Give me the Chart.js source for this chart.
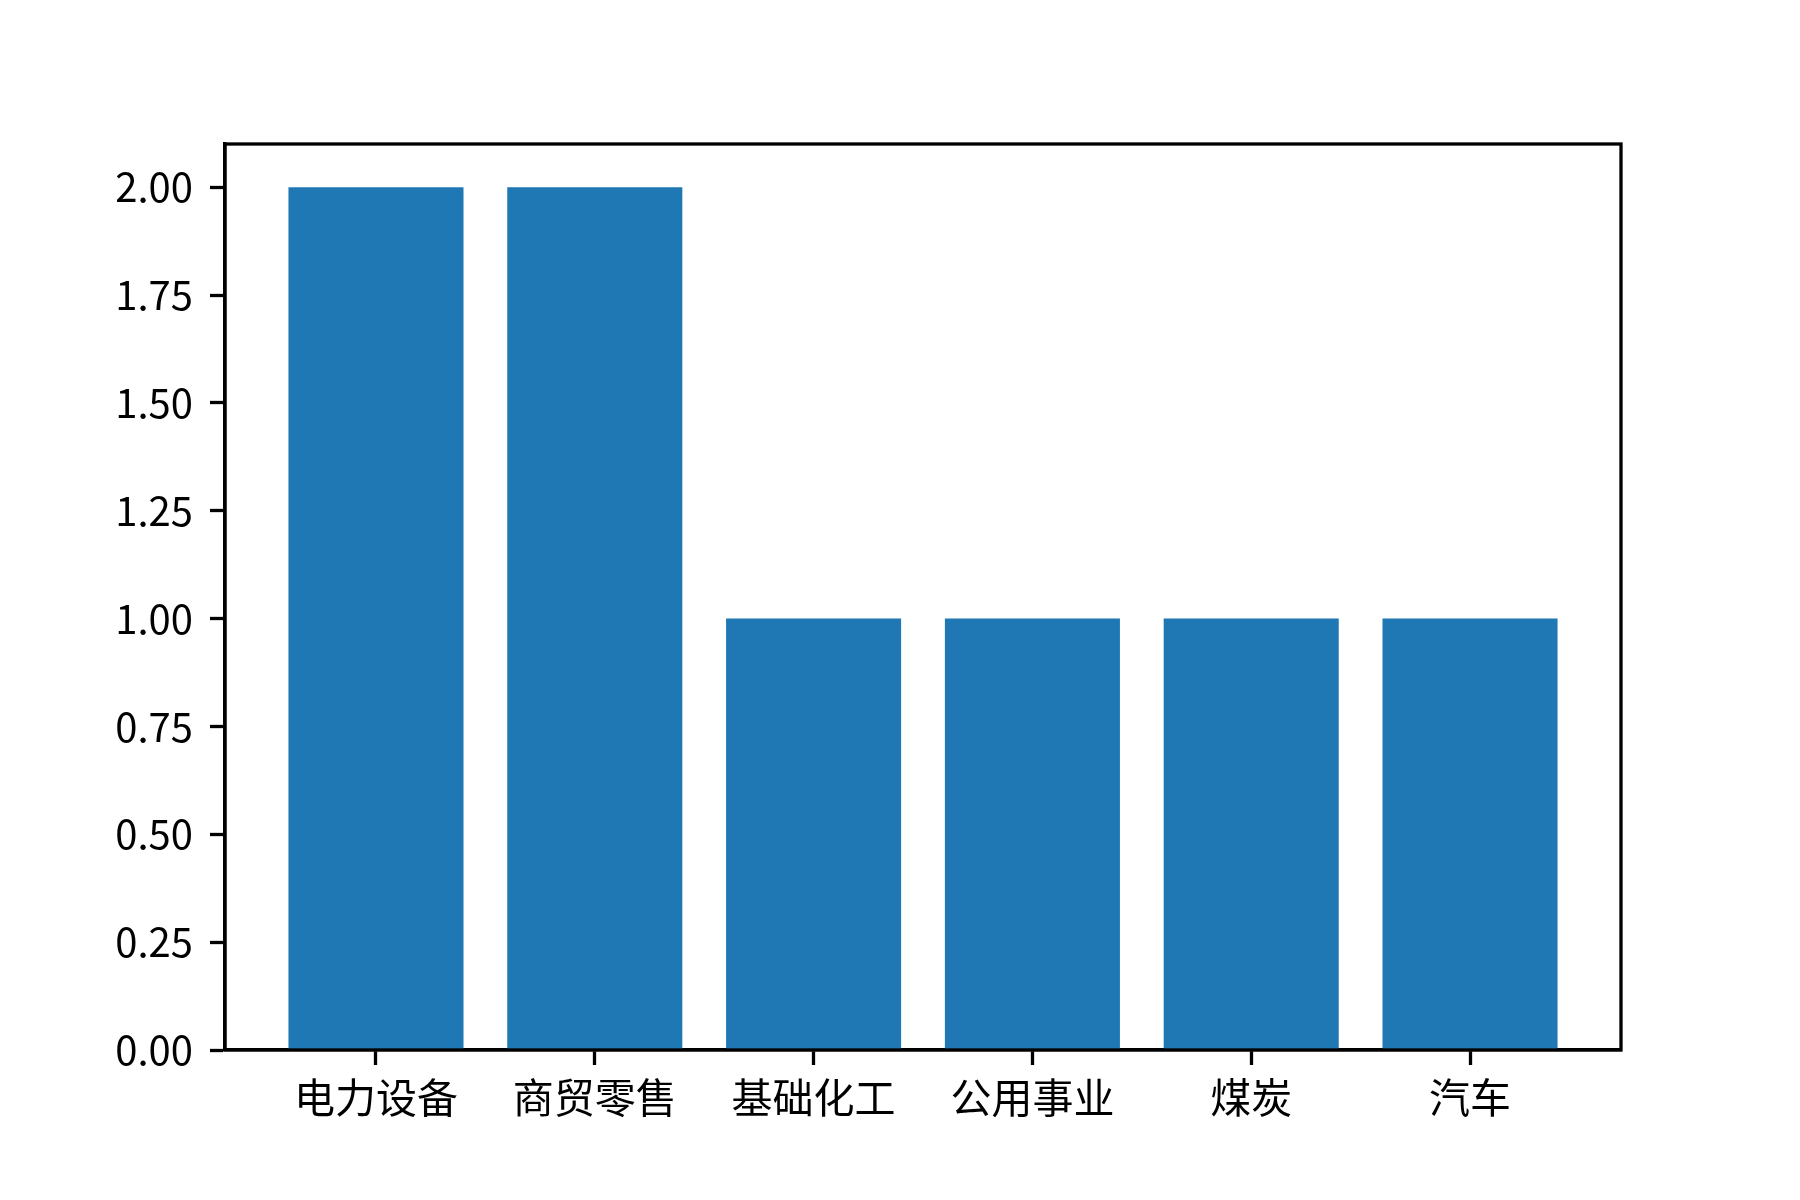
<!DOCTYPE html>
<html>
<head>
<meta charset="utf-8">
<script src="https://cdn.jsdelivr.net/npm/chart.js@4/dist/chart.umd.min.js"></script>
<style>
  html, body { margin: 0; padding: 0; background: #fff; }
  #chart { display: block; }
</style>
</head>
<body>
<canvas id="chart" width="1800" height="1200"></canvas>
<script>
// data
const categories = ['电力设备', '商贸零售', '基础化工', '公用事业', '煤炭', '汽车'];
const counts = [2, 2, 1, 1, 1, 1];
const yTicks = [0, 0.25, 0.5, 0.75, 1.0, 1.25, 1.5, 1.75, 2.0];

const FONT = "'Noto Sans CJK SC', 'Noto Sans', sans-serif";
const LINE = 3.3;

// matplotlib draws the full axes box on top of the bars
const framePlugin = {
    id: 'frame',
    afterDatasetsDraw(chart) {
        const { ctx, chartArea: a } = chart;
        ctx.save();
        ctx.strokeStyle = '#000';
        ctx.lineWidth = LINE;
        ctx.strokeRect(a.left, a.top, a.right - a.left, a.bottom - a.top);
        ctx.restore();
    }
};

new Chart(document.getElementById('chart').getContext('2d'), {
    type: 'bar',
    data: {
        datasets: [{
            data: counts.map((v, i) => ({ x: i, y: v })),
            backgroundColor: '#1f77b4',
            borderWidth: 0,
            barPercentage: 0.8,
            categoryPercentage: 1.0
        }]
    },
    options: {
        responsive: false,
        devicePixelRatio: 1,
        animation: false,
        layout: { padding: { left: 0, top: 144, right: 179, bottom: 0 } },
        plugins: {
            legend: { display: false },
            tooltip: { enabled: false }
        },
        scales: {
            x: {
                type: 'linear',
                offset: false,
                min: -0.69,
                max: categories.length - 1 + 0.69,
                afterBuildTicks: (scale) => {
                    scale.ticks = categories.map((c, i) => ({ value: i }));
                },
                afterFit: (scale) => { scale.height = 150; },
                grid: {
                    offset: false,
                    drawOnChartArea: false,
                    drawTicks: true,
                    tickLength: 15,
                    tickWidth: LINE,
                    tickColor: '#000'
                },
                border: { display: true, color: '#000', width: LINE },
                ticks: {
                    autoSkip: false,
                    maxRotation: 0,
                    padding: 8,
                    color: '#000',
                    font: { family: FONT, size: 41 },
                    callback: (value, index) => categories[index]
                }
            },
            y: {
                min: 0,
                max: 2.1,
                afterBuildTicks: (scale) => {
                    scale.ticks = yTicks.map(v => ({ value: v }));
                },
                afterFit: (scale) => { scale.width = 225; },
                grid: {
                    drawOnChartArea: false,
                    drawTicks: true,
                    tickLength: 15,
                    tickWidth: LINE,
                    tickColor: '#000'
                },
                border: { display: true, color: '#000', width: LINE },
                ticks: {
                    padding: 17,
                    color: '#000',
                    font: { family: FONT, size: 40 },
                    callback: (value) => Number(value).toFixed(2)
                }
            }
        }
    },
    plugins: [framePlugin]
});
</script>
</body>
</html>
